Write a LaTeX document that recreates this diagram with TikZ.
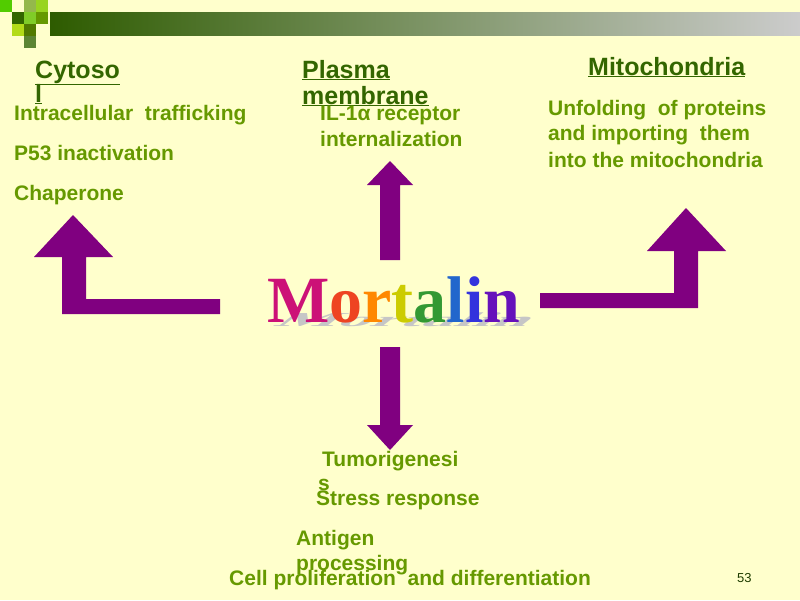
\documentclass[tikz,border=0pt]{standalone}
\usepackage{fontspec}
\setmainfont{Liberation Sans}
\newfontfamily\serifb{Liberation Serif}
\begin{document}
\begin{tikzpicture}[x=1pt,y=-1pt,
  txt/.style={anchor=base west,inner sep=0pt,text=lgreen,font=\fontsize{21}{23}\selectfont\bfseries},
  hd/.style={anchor=base west,inner sep=0pt,text=dgreen,font=\fontsize{25}{27}\selectfont\bfseries},
  arr/.style={fill=purp,draw=none}]
\definecolor{bg}{HTML}{FFFFCC}
\definecolor{lgreen}{HTML}{669900}
\definecolor{dgreen}{HTML}{336600}
\definecolor{purp}{HTML}{800080}
\fill[bg] (0,0) rectangle (800,600);
\useasboundingbox (0,0) rectangle (800,600);
% header bar
\shade[left color=dgreen!90!black,right color=gray!40] (50,12) rectangle (800,35);
\fill[green!60!yellow!80!black] (0,0) rectangle (12,12);
\fill[lgreen!70] (24,0) rectangle (36,12);
\fill[yellow!60!green] (36,0) rectangle (48,12);
\fill[dgreen] (12,12) rectangle (24,24);
\fill[yellow!50!green] (24,12) rectangle (36,24);
\fill[lgreen] (36,12) rectangle (48,24);
\fill[yellow!70!green] (12,24) rectangle (24,36);
\fill[lgreen!80!black] (24,24) rectangle (36,36);
\fill[dgreen!80] (24,36) rectangle (36,48);
% arrows
\fill[arr] (73,215) -- (113,257) -- (86,257) -- (86,299) -- (220,299) -- (220,314) -- (62,314) -- (62,257) -- (34,257) -- cycle;
\fill[arr] (686,208) -- (726,251) -- (698,251) -- (698,308) -- (540,308) -- (540,293) -- (674,293) -- (674,251) -- (647,251) -- cycle;
\fill[arr] (390,161) -- (413,185) -- (400,185) -- (400,260) -- (380,260) -- (380,185) -- (367,185) -- cycle;
\fill[arr] (390,450) -- (413,425) -- (400,425) -- (400,347) -- (380,347) -- (380,425) -- (367,425) -- cycle;
% Mortalin
\node[anchor=base west,inner sep=0pt,text=gray!45,font=\fontsize{66}{66}\serifb\bfseries,xslant=1.3,yscale=0.3] (sh) at (272,326) {Mortalin};
\node[anchor=base west,inner sep=0pt,font=\fontsize{66}{66}\serifb\bfseries] (mort) at (267,322) {\textcolor[HTML]{CC1177}{M}\textcolor[HTML]{EE4422}{o}\textcolor[HTML]{FF8800}{r}\textcolor[HTML]{CCCC00}{t}\textcolor[HTML]{339933}{a}\textcolor[HTML]{2266CC}{l}\textcolor[HTML]{3333DD}{i}\textcolor[HTML]{6611BB}{n}};
% headings
\node[hd] (h1) at (35,78) {\underline{Cytoso}};
\node[hd] (h1b) at (35,102) {\underline{l}};
\node[hd] (h2) at (302,78) {\underline{Plasma}};
\node[hd] (h2b) at (302,104) {\underline{membrane}};
\node[hd] (h3) at (588,75) {\underline{Mitochondria}};
% texts
\node[txt] (t1) at (14,120) {Intracellular\ \ trafficking};
\node[txt] (t2) at (14,160) {P53 inactivation};
\node[txt] (t3) at (14,200) {Chaperone};
\node[txt] (t4) at (320,120) {IL-1α receptor};
\node[txt] (t5) at (320,146) {internalization};
\node[txt] (t6) at (548,115) {Unfolding\ \ of proteins};
\node[txt] (t7) at (548,140) {and importing\ \ them};
\node[txt] (t8) at (548,167) {into the mitochondria};
\node[txt] (t9) at (322,466) {Tumorigenesi};
\node[txt] (t9b) at (318,490) {s};
\node[txt] (t10) at (316,505) {Stress response};
\node[txt] (t11) at (296,545) {Antigen};
\node[txt] (t11b) at (296,570) {processing};
\node[txt] (t12) at (229,585) {Cell proliferation\ \ and differentiation};
\node[anchor=base west,inner sep=0pt,text=dgreen!60!black,font=\fontsize{13}{15}\selectfont] (pg) at (737,582) {53};
\end{tikzpicture}
\end{document}
